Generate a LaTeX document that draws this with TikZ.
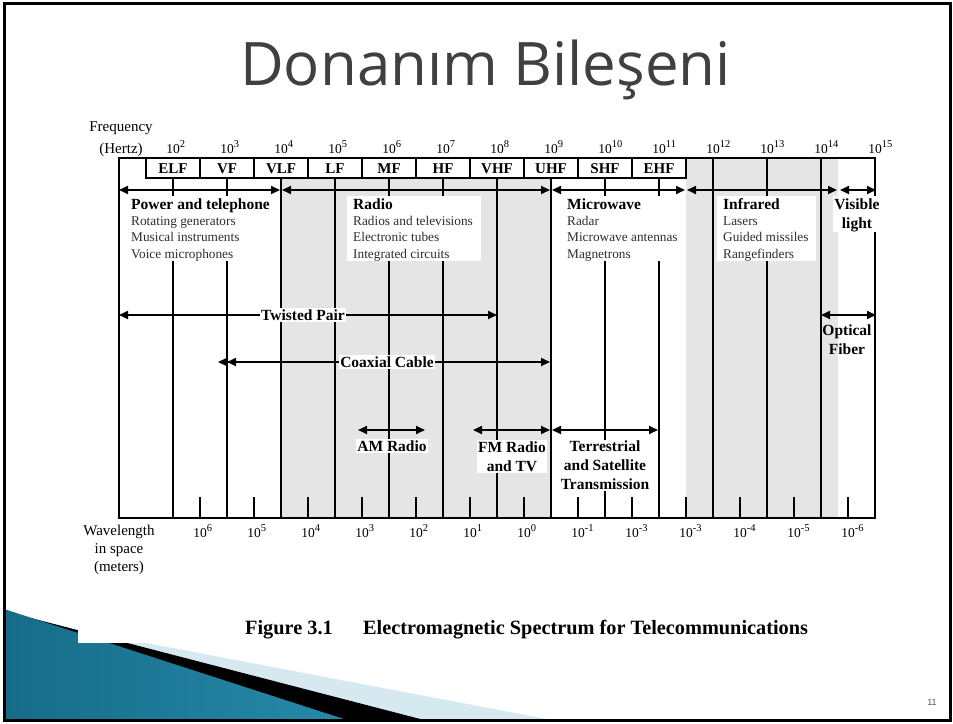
\documentclass[tikz,border=0pt]{standalone}
\usepackage{fontspec}
\setmainfont{Liberation Serif}
\newfontfamily\titlefont{Open Sans}
\newfontfamily\pagefont{Liberation Sans}
\usetikzlibrary{arrows.meta}
\definecolor{bandgray}{RGB}{229,229,229}
\definecolor{titlegray}{RGB}{64,64,64}
\definecolor{listgray}{RGB}{45,45,45}
\definecolor{tealdark}{RGB}{22,108,136}
\definecolor{tealmid}{RGB}{80,178,210}
\definecolor{tealend}{RGB}{38,138,170}
\definecolor{paleblue}{RGB}{214,233,241}
\newcommand{\fs}[2]{\fontsize{#1}{#2}\selectfont}
\newcommand{\decpow}[1]{10\raisebox{5.5pt}{\fs{10.5}{11}#1}}
\tikzset{tipT/.tip={Triangle[length=9pt,width=8pt]}}

\begin{document}
\begin{tikzpicture}[x=1pt,y=-1pt,
  rule/.style={line width=1.7pt,line cap=rect},
  boxline/.style={line width=1.4pt},
  minortick/.style={line width=1.4pt},
  span/.style={line width=1.7pt,tipT-tipT},
  spandbl/.style={line width=1.7pt,{tipT[]tipT[]}-tipT},
  bandlbl/.style={font=\fs{15}{15}\bfseries,inner sep=0pt},
  head/.style={anchor=base west,inner sep=0pt,font=\fs{15.5}{15.5}\bfseries},
  item/.style={anchor=base west,inner sep=0pt,font=\fs{13.3}{13.3},text=listgray},
  medium/.style={fill=white,inner sep=1.5pt,align=center,font=\fs{15.5}{19}\bfseries},
  axisword/.style={anchor=base,inner sep=0pt,font=\fs{15}{15}},
  decade/.style={anchor=base west,inner sep=0pt,font=\fs{13.5}{13.5}}
]
\useasboundingbox (0,0) rectangle (953,723);
\fill[white] (0,0) rectangle (953,723);

% slide corner ornament
\fill[paleblue] (4,616) -- (557,721) -- (4,721) -- cycle;
\fill[black] (4,611) -- (428,721) -- (4,721) -- cycle;
\shade[left color=tealdark,middle color=tealmid,right color=tealend]
  (4,609) -- (350,721) -- (4,721) -- cycle;
\fill[white] (78,560) rectangle (600,643);

% title
\node[anchor=base west,inner sep=0pt,text=titlegray] (title) at (240,85)
  {\titlefont\fs{60}{60}Donanım Bileşeni};

% shaded regions of the spectrum
\fill[bandgray] (281,178) rectangle (551,518);
\fill[bandgray] (686,158) rectangle (838,518);

% band boxes
\draw[boxline] (119,158) -- (875,158);
\draw[boxline] (146,158) rectangle (686,178);
\foreach \x in {200,254,308,362,416,470,524,578,632}
  \draw[boxline] (\x,158) -- (\x,178);
\foreach \x/\t [count=\i] in {173/ELF,227/VF,281/VLF,335/LF,389/MF,443/HF,497/VHF,551/UHF,605/SHF,659/EHF}
  \node[bandlbl] (band\i) at (\x,168.5) {\t};

% decade lines
\foreach \x in {173,227,281,335,389,443,497,551,605,659}
  \draw[rule] (\x,178) -- (\x,518);
\foreach \x in {119,713,767,821,875}
  \draw[rule] (\x,158) -- (\x,518);

% wavelength axis
\draw[rule] (119,518) -- (875,518);
\foreach \x in {200,254,308,362,416,470,524,578,632,686,740,794,848}
  \draw[minortick] (\x,497) -- (\x,518);

% region arrows
\coordinate (pwL) at (119,190);  \coordinate (pwR) at (280,190);
\coordinate (rdL) at (282,190);  \coordinate (rdR) at (550,190);
\coordinate (mwL) at (552,190);  \coordinate (mwR) at (685,190);
\coordinate (irL) at (687,190);  \coordinate (irR) at (837,190);
\coordinate (vsL) at (840,190);  \coordinate (vsR) at (876,190);
\draw[span] (pwL) -- (pwR);
\draw[span] (rdL) -- (rdR);
\draw[span] (mwL) -- (mwR);
\draw[span] (irL) -- (irR);
\draw[span] (vsL) -- (vsR);

% application blocks
\fill[white] (126,196) rectangle (277,261);
\fill[white] (347,196) rectangle (481,261);
\fill[white] (560,196) rectangle (683,261);
\fill[white] (717,196) rectangle (816,261);
\fill[white] (833,196) rectangle (881,232);

\node[head] (pwhead) at (131,209) {Power and telephone};
\node[item] (pw1) at (131,225) {Rotating generators};
\node[item] (pw2) at (131,241.5) {Musical instruments};
\node[item] (pw3) at (131,258) {Voice microphones};

\node[head] (rdhead) at (353,209) {Radio};
\node[item] (rd1) at (353,225) {Radios and televisions};
\node[item] (rd2) at (353,241.5) {Electronic tubes};
\node[item] (rd3) at (353,258) {Integrated circuits};

\node[head] (mwhead) at (567,209) {Microwave};
\node[item] (mw1) at (567,225) {Radar};
\node[item] (mw2) at (567,241.5) {Microwave antennas};
\node[item] (mw3) at (567,258) {Magnetrons};

\node[head] (irhead) at (723,209) {Infrared};
\node[item] (ir1) at (723,225) {Lasers};
\node[item] (ir2) at (723,241.5) {Guided missiles};
\node[item] (ir3) at (723,258) {Rangefinders};

\node[head,anchor=base] (vs1) at (857,209) {Visible};
\node[head,anchor=base] (vs2) at (857,228) {light};

% transmission media
\coordinate (tpL) at (119,315);  \coordinate (tpR) at (497,315);
\coordinate (cxL) at (218,362);  \coordinate (cxR) at (550,362);
\coordinate (amL) at (358,430);  \coordinate (amR) at (425,430);
\coordinate (fmL) at (473,430);  \coordinate (fmR) at (550,430);
\coordinate (tsL) at (552,430);  \coordinate (tsR) at (658,430);
\coordinate (ofL) at (821,315);  \coordinate (ofR) at (876,315);
\draw[span] (tpL) -- (tpR);
\draw[spandbl] (cxL) -- (cxR);
\draw[span] (amL) -- (amR);
\draw[span] (fmL) -- (fmR);
\draw[span] (tsL) -- (tsR);
\draw[span] (ofL) -- (ofR);

\node[medium] (tp) at (303,315) {Twisted Pair};
\node[medium] (cx) at (387,362) {Coaxial Cable};
\node[medium] (am) at (392,446) {AM Radio};
\node[medium] (fm) at (512,456.5) {FM Radio\\and TV};
\node[medium] (ts) at (605,465.5) {Terrestrial\\and Satellite\\Transmission};
\node[medium,fill=none] (of) at (847,339.5) {Optical\\Fiber};

% axis captions
\node[axisword] (freq1) at (121,131) {Frequency};
\node[axisword] (freq2) at (121,153) {(Hertz)};
\node[axisword] (wl1) at (119,535) {Wavelength};
\node[axisword] (wl2) at (119,553) {in space};
\node[axisword] (wl3) at (119,571) {(meters)};

% frequency decades
\foreach \e [count=\i] in {2,...,15}
  \node[decade] (fq\i) at ({173+54*(\e-2)-6.75},153) {\decpow{\e}};

% wavelength decades
\foreach \x/\e [count=\i] in {200/6,254/5,308/4,362/3,416/2,470/1,524/0,578/-1,632/-3,686/-3,740/-4,794/-5,848/-6}
  \node[decade] (wv\i) at (\x-6.75,537) {\decpow{\e}};

% figure caption
\node[anchor=base west,inner sep=0pt,font=\fs{20.3}{20.3}\bfseries] (figno) at (245,634) {Figure 3.1};
\node[anchor=base west,inner sep=0pt,font=\fs{20.3}{20.3}\bfseries] (figtitle) at (363,634)
  {Electromagnetic Spectrum for Telecommunications};

% slide number and frame
\node[inner sep=0pt,text=black!65,font=\pagefont\fs{9}{9}] (pageno) at (932,702) {11};
\draw[line width=3pt] (4.5,3) rectangle (950.5,720);
\end{tikzpicture}
\end{document}
